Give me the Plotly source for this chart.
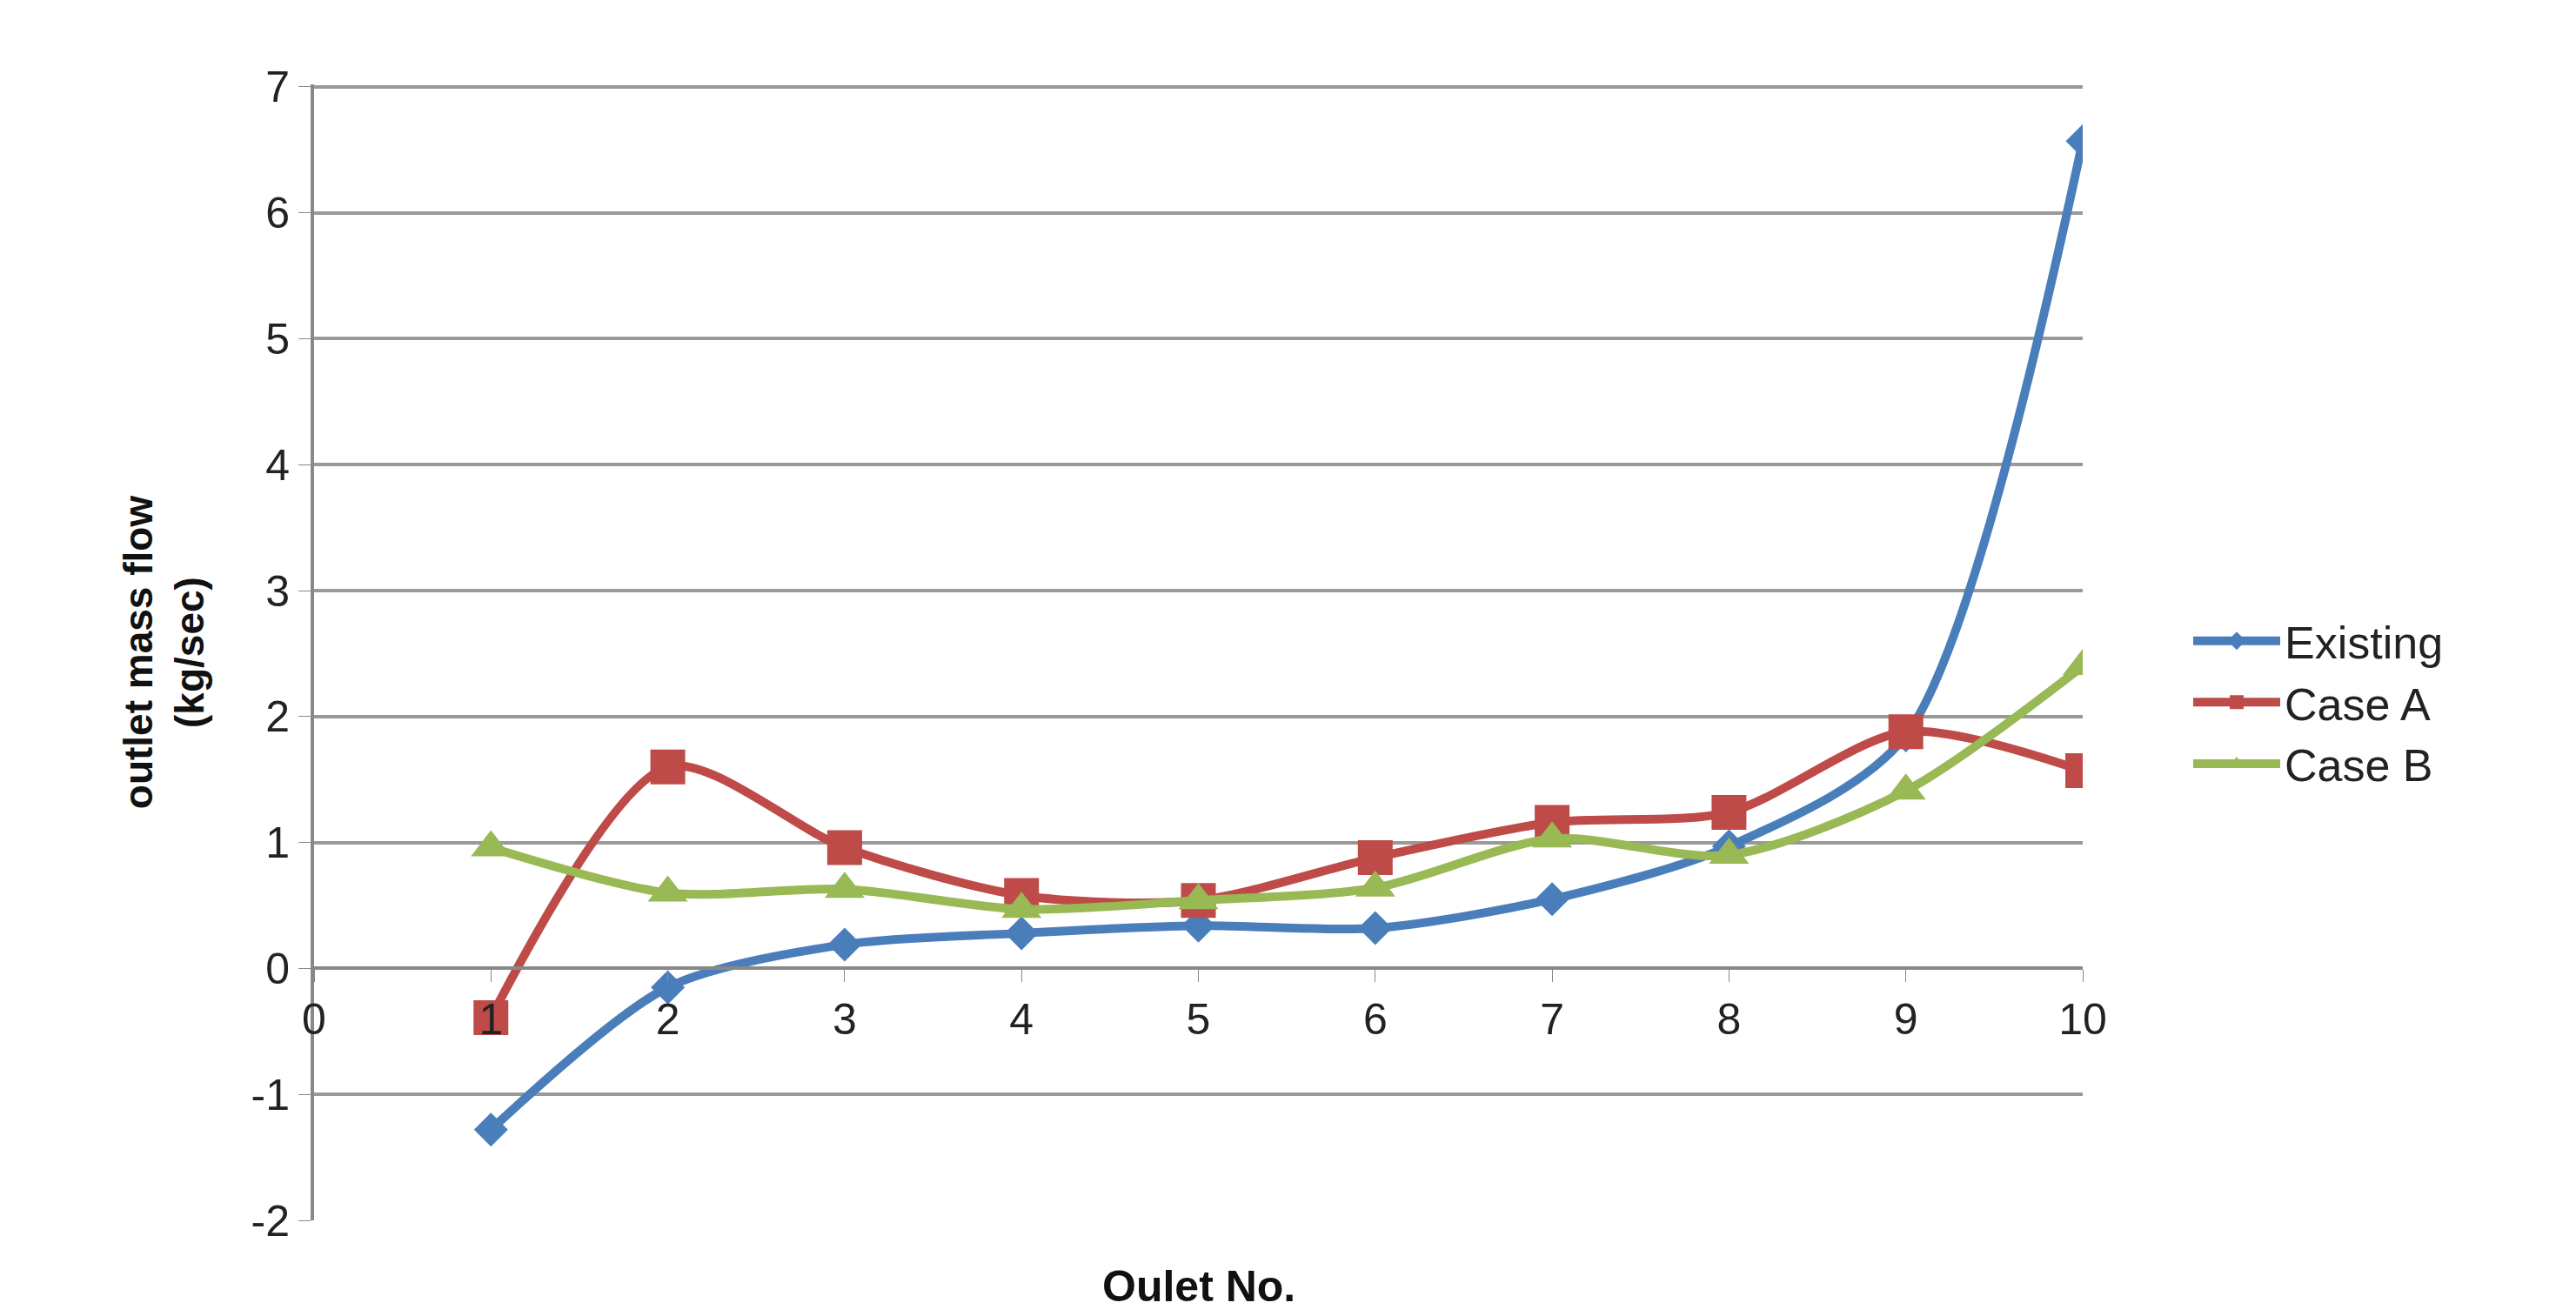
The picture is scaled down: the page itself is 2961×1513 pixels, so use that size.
import plotly.graph_objects as go

x = [1, 2, 3, 4, 5, 6, 7, 8, 9, 10]
existing = [-1.28, -0.15, 0.19, 0.28, 0.34, 0.32, 0.55, 0.97, 1.85, 6.57]
case_a = [-0.39, 1.6, 0.96, 0.58, 0.54, 0.88, 1.16, 1.24, 1.88, 1.57]
case_b = [0.96, 0.6, 0.63, 0.47, 0.54, 0.64, 1.03, 0.9, 1.41, 2.4]
y_ticks = [-2, -1, 0, 1, 2, 3, 4, 5, 6, 7]
y_labels = ["-2", "-1", "0", "1", "2", "3", "4", "5", "6", "7"]

series = [("Existing", existing, "#4A7EBB", "diamond", 30),
          ("Case A", case_a, "#BE4B48", "square", 40),
          ("Case B", case_b, "#98B954", "triangle-up", 40)]

fig = go.Figure()
for name, ys, c, sym, sz in series:
    fig.add_trace(go.Scatter(x=x, y=ys, name=name, mode="lines+markers",
                             line=dict(color=c, width=10, shape="spline", smoothing=0.8),
                             marker=dict(color=c, symbol=sym, size=sz)))

fig.update_layout(
    width=2961, height=1513, plot_bgcolor="white", paper_bgcolor="white",
    margin=dict(l=353, r=575, t=89, b=118),
    font=dict(family="Liberation Sans, Arial", size=50, color="#222"),
    xaxis=dict(range=[0, 10], tickvals=list(range(11)), showgrid=False,
               anchor="free", position=2/9.02, showline=True, linecolor="#888", linewidth=4,
               ticks="outside", ticklen=14, tickcolor="#888", zeroline=False),
    yaxis=dict(range=[-2, 7.02], tickvals=y_ticks, ticktext=y_labels, showgrid=True,
               gridcolor="#999", gridwidth=4,
               showline=True, linecolor="#888", linewidth=4, ticks="outside", ticklen=14,
               tickcolor="#888", zeroline=False,
               title=dict(text="<b>outlet mass flow<br>(kg/sec)</b>", font=dict(size=46, color="#111"), standoff=40)),
    legend=dict(x=1.06, y=0.456, yanchor="middle", xanchor="left", font=dict(size=52),
                tracegroupgap=50, itemwidth=100),
    showlegend=True,
)
fig.add_annotation(text="<b>Oulet No.</b>", x=0.5, y=-0.035, xref="paper", yref="paper",
                   yanchor="top", showarrow=False, font=dict(size=50, color="#111"))
fig.write_html("out.html")
